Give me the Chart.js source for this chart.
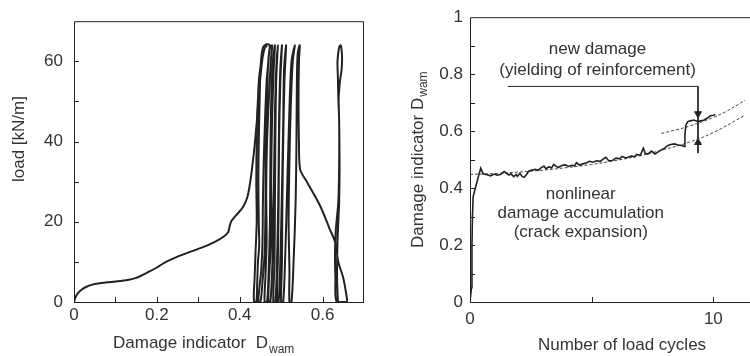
<!DOCTYPE html>
<html>
<head>
<meta charset="utf-8">
<script src="https://cdn.jsdelivr.net/npm/chart.js@4.4.1/dist/chart.umd.min.js"></script>
<style>
  body { margin: 0; background: #fff; }
  #wrap { position: relative; width: 750px; height: 356px; }
  #wrap canvas { position: absolute; top: 0; }
</style>
</head>
<body>
<div id="wrap">
  <canvas id="left" width="375" height="356" style="left:0"></canvas>
  <canvas id="right" width="375" height="356" style="left:375px"></canvas>
</div>
<script>
/* ── left: load vs damage indicator ── */
const initD    = [0, 0.005, 0.015, 0.03, 0.05, 0.08, 0.1, 0.13, 0.15, 0.18, 0.2, 0.22, 0.25, 0.28, 0.31, 0.34, 0.36, 0.372, 0.376, 0.38, 0.392, 0.408, 0.418, 0.424, 0.43, 0.436, 0.442, 0.448, 0.454, 0.46, 0.466];
const initLoad = [0, 1.5, 2.8, 3.8, 4.5, 4.9, 5.1, 5.5, 6.0, 7.5, 8.6, 9.9, 11.3, 12.5, 13.6, 15.0, 16.2, 17.4, 19.0, 20.2, 21.7, 23.7, 26.0, 29.0, 33.5, 39.0, 46.0, 54.0, 60.0, 63.2, 64.0];

const cycD = [
  0.455, 0.447, 0.443, 0.441, 0.440, 0.441, 0.438, 0.436, 0.434, 0.435,
  0.440, 0.442, 0.444, 0.447, 0.446, 0.445, 0.446, 0.448, 0.450, 0.455, 0.463, 0.472,
  0.470, 0.465, 0.461, 0.458, 0.456, 0.455, 0.452, 0.447, 0.445,
  0.450, 0.455, 0.460, 0.462, 0.463, 0.465, 0.468, 0.472, 0.478,
  0.475, 0.470, 0.466, 0.464, 0.465, 0.462, 0.460,
  0.466, 0.470, 0.473, 0.474, 0.476, 0.480, 0.485,
  0.482, 0.478, 0.476, 0.477, 0.472, 0.469,
  0.474, 0.479, 0.482, 0.484, 0.487, 0.492,
  0.488, 0.486, 0.485, 0.484, 0.481,
  0.486, 0.490, 0.493, 0.495, 0.498, 0.502,
  0.498, 0.495, 0.494, 0.492, 0.490,
  0.494, 0.498, 0.502, 0.505, 0.507, 0.512,
  0.508, 0.505, 0.503, 0.502, 0.500,
  0.505, 0.510, 0.515, 0.520, 0.525, 0.533,
  0.528, 0.523, 0.520, 0.518, 0.520, 0.520,
  0.525, 0.530, 0.535, 0.537, 0.538, 0.540, 0.545,
  0.543, 0.542, 0.543, 0.546, 0.562, 0.594, 0.618, 0.630, 0.638, 0.650, 0.657, 0.658,
  0.634, 0.631, 0.630, 0.632, 0.638, 0.640, 0.640, 0.638, 0.637, 0.636, 0.640, 0.644,
  0.647, 0.646, 0.642, 0.639, 0.640, 0.641, 0.640, 0.636, 0.635, 0.637
];
const cycLoad = [
  62, 56, 48, 40, 30, 20, 12, 6, 2, 0,
  0, 4, 10, 14, 20, 30, 40, 50, 58, 63, 64.2, 64,
  61, 55, 45, 35, 25, 15, 8, 3, 0,
  0, 5, 12, 22, 35, 48, 58, 63, 64,
  60, 50, 40, 28, 15, 6, 0,
  0, 8, 20, 35, 50, 60, 64,
  58, 45, 30, 18, 8, 0,
  0, 10, 25, 40, 55, 64,
  55, 40, 25, 10, 0,
  0, 10, 25, 45, 58, 64,
  55, 40, 25, 10, 0,
  0, 10, 28, 45, 58, 64,
  55, 40, 25, 10, 0,
  0, 12, 30, 48, 60, 64,
  60, 48, 35, 20, 8, 0,
  0, 10, 25, 40, 55, 62, 64,
  60, 50, 40, 33, 30, 24, 18, 15, 10, 6, 2, 0,
  0, 6, 12, 18, 25, 34, 45, 51, 56, 60, 63.5, 64,
  61, 58, 55, 51, 45, 35, 25, 15, 6, 0
];

/* ── right: damage indicator vs number of load cycles ── */
const cycleN = [0, 0.06, 0.08, 0.1, 0.13, 0.25, 0.44, 0.54, 0.7, 0.85, 1.0, 1.1, 1.25, 1.41, 1.5, 1.6, 1.68, 1.8, 1.9, 1.95, 2.05, 2.15, 2.22, 2.3, 2.42, 2.55, 2.69, 2.8, 2.9, 3.04, 3.12, 3.25, 3.35, 3.44, 3.55, 3.64, 3.78, 3.9, 4.05, 4.17, 4.3, 4.37, 4.5, 4.64, 4.8, 4.91, 5.04, 5.2, 5.35, 5.44, 5.58, 5.7, 5.85, 6.0, 6.15, 6.25, 6.4, 6.55, 6.65, 6.75, 6.85, 7.0, 7.12, 7.2, 7.3, 7.46, 7.6, 7.75, 7.86, 8.0, 8.13, 8.25, 8.4, 8.55, 8.67, 8.8, 8.83, 8.87, 8.95, 9.05, 9.2, 9.35, 9.47, 9.6, 9.74, 9.88, 10.0, 10.08];
const dwam   = [0, 0.05, 0.19, 0.3, 0.37, 0.41, 0.47, 0.45, 0.447, 0.443, 0.449, 0.445, 0.448, 0.458, 0.452, 0.446, 0.45, 0.44, 0.448, 0.441, 0.452, 0.44, 0.438, 0.445, 0.46, 0.463, 0.466, 0.462, 0.47, 0.477, 0.468, 0.475, 0.471, 0.483, 0.476, 0.473, 0.479, 0.482, 0.476, 0.48, 0.478, 0.489, 0.481, 0.485, 0.489, 0.494, 0.491, 0.496, 0.494, 0.5, 0.508, 0.496, 0.497, 0.505, 0.503, 0.511, 0.506, 0.51, 0.513, 0.509, 0.518, 0.515, 0.54, 0.522, 0.519, 0.53, 0.52, 0.528, 0.534, 0.54, 0.55, 0.553, 0.555, 0.551, 0.55, 0.546, 0.587, 0.621, 0.633, 0.636, 0.639, 0.634, 0.636, 0.638, 0.645, 0.654, 0.656, 0.658];

const trendLowN  = [0, 1, 2, 3, 4, 5, 6, 7, 8, 9, 10, 11.3];
const trendLowD  = [0.448, 0.451, 0.456, 0.463, 0.472, 0.483, 0.497, 0.514, 0.536, 0.561, 0.595, 0.656];
const trendHighN = [7.86, 8.5, 9, 9.5, 10, 10.5, 11.3];
const trendHighD = [0.592, 0.605, 0.617, 0.632, 0.648, 0.668, 0.708];

const leaderN = [1.55, 9.37, 9.37];
const leaderD = [0.757, 0.757, 0.523];
const arrowN  = [9.37, 9.37];
const arrowD  = [0.661, 0.56];
const arrowRot = [180, 0];

const noteText = ['new damage', '(yielding of reinforcement)', 'nonlinear', 'damage accumulation', '(crack expansion)'];
const noteN    = [5.24, 5.24, 4.55, 4.55, 4.55];
const noteD    = [0.887, 0.814, 0.379, 0.31, 0.243];

const INK = '#222';
const FONT = '"Liberation Sans", Arial, sans-serif';
Chart.defaults.font.family = FONT;
Chart.defaults.font.size = 17;
Chart.defaults.color = '#333';

const pts = (xs, ys) => xs.map((x, i) => ({ x, y: ys[i] }));

/* inward tick marks, frame and titles */
const frame = {
  id: 'frame',
  afterDraw(chart, args, opts) {
    const { ctx, chartArea: a } = chart;
    ctx.save();
    ctx.strokeStyle = INK;
    ctx.lineWidth = 1;
    ctx.beginPath();
    ctx.moveTo(a.left + .5, a.bottom + .5); ctx.lineTo(a.left + .5, a.top + .5);
    ctx.lineTo(opts.open ? chart.width : a.right - .5, a.top + .5);
    if (!opts.open) ctx.lineTo(a.right - .5, a.bottom + .5);
    ctx.moveTo(a.left, a.bottom + .5); ctx.lineTo(opts.open ? chart.width : a.right, a.bottom + .5);
    // ticks
    const xs = chart.scales.x, ys = chart.scales.y;
    xs.ticks.forEach(t => {
      if (t.value <= xs.min || t.value >= xs.max) return;
      const p = Math.round(xs.getPixelForValue(t.value)) + .5;
      ctx.moveTo(p, a.bottom); ctx.lineTo(p, a.bottom - 5);
    });
    ys.ticks.forEach(t => {
      if (t.value <= ys.min || t.value >= ys.max - 1e-9) return;
      const p = Math.round(ys.getPixelForValue(t.value)) + .5;
      ctx.moveTo(a.left, p); ctx.lineTo(a.left + 5, p);
    });
    ctx.stroke();

    ctx.fillStyle = '#333';
    ctx.textBaseline = 'alphabetic';
    // x title
    const xt = opts.xTitle;
    ctx.font = '17px ' + FONT;
    ctx.textAlign = xt.align;
    ctx.fillText(xt.text, xt.x, xt.y);
    if (xt.sub) {
      const w = ctx.measureText(xt.text).width;
      ctx.font = '12px ' + FONT;
      ctx.textAlign = 'left';
      ctx.fillText(xt.sub, xt.x + w + 1, xt.y + 5);
    }
    // y title
    const yt = opts.yTitle;
    ctx.translate(yt.x, yt.y);
    ctx.rotate(-Math.PI / 2);
    ctx.font = '17px ' + FONT;
    ctx.textAlign = 'left';
    ctx.fillText(yt.text, 0, 0);
    if (yt.sub) {
      const w = ctx.measureText(yt.text).width;
      ctx.font = '12px ' + FONT;
      ctx.fillText(yt.sub, w + 1, 4);
    }
    ctx.restore();
  }
};

const notes = {
  id: 'notes',
  afterDatasetsDraw(chart) {
    const { ctx, scales } = chart;
    ctx.save();
    ctx.fillStyle = '#333';
    ctx.font = '17px ' + FONT;
    ctx.textAlign = 'center';
    ctx.textBaseline = 'middle';
    noteText.forEach((t, i) => {
      ctx.fillText(t, scales.x.getPixelForValue(noteN[i]), scales.y.getPixelForValue(noteD[i]));
    });
    ctx.restore();
  }
};

function axisOpts(min, max, step, labels, pad, size, isX) {
  return {
    type: 'linear', min, max,
    ticks: {
      stepSize: step, padding: pad, color: '#333',
      autoSkip: false, maxRotation: 0, includeBounds: false,
      callback: v => {
        const hit = labels.find(l => Math.abs(l - v) < 1e-6);
        return hit === undefined ? '' : String(hit);
      }
    },
    grid: { drawOnChartArea: false, drawTicks: false },
    border: { display: false },
    afterFit: s => { if (isX) s.height = size; else s.width = size; }
  };
}

new Chart(document.getElementById('left'), {
  type: 'scatter',
  data: {
    datasets: [
      { data: pts(initD, initLoad), showLine: true, borderColor: INK, borderWidth: 2, pointRadius: 0, tension: 0.3 },
      { data: pts(cycD, cycLoad), showLine: true, borderColor: INK, borderWidth: 2, pointRadius: 0, tension: 0.3 }
    ]
  },
  options: {
    responsive: false, animation: false,
    layout: { padding: { top: 13, right: 11 } },
    plugins: {
      legend: { display: false }, tooltip: { enabled: false },
      frame: {
        open: false,
        xTitle: { text: 'Damage indicator  D', sub: 'wam', x: 113, y: 348, align: 'left' },
        yTitle: { text: 'load [kN/m]', x: 24, y: 182 }
      }
    },
    scales: {
      x: axisOpts(0, 0.7, 0.1, [0, 0.2, 0.4, 0.6], 3, 54, true),
      y: axisOpts(0, 70, 10, [0, 20, 40, 60], 11, 74, false)
    }
  },
  plugins: [frame]
});

new Chart(document.getElementById('right'), {
  type: 'scatter',
  data: {
    datasets: [
      { data: pts(cycleN, dwam), showLine: true, borderColor: INK, borderWidth: 1.6, pointRadius: 0, tension: 0 },
      { data: pts(trendLowN, trendLowD), showLine: true, borderColor: '#444', borderWidth: 1, borderDash: [3, 2], pointRadius: 0, tension: 0.4 },
      { data: pts(trendHighN, trendHighD), showLine: true, borderColor: '#444', borderWidth: 1, borderDash: [3, 2], pointRadius: 0, tension: 0.4 },
      { data: pts(leaderN, leaderD), showLine: true, borderColor: INK, borderWidth: 1, pointRadius: 0, tension: 0 },
      { data: pts(arrowN, arrowD), showLine: false, pointStyle: 'triangle', pointRadius: 4, rotation: arrowRot,
        backgroundColor: INK, borderColor: INK, borderWidth: 1 }
    ]
  },
  options: {
    responsive: false, animation: false,
    layout: { padding: { top: 14, right: 0 } },
    plugins: {
      legend: { display: false }, tooltip: { enabled: false },
      frame: {
        open: true,
        xTitle: { text: 'Number of load cycles', x: 247, y: 350, align: 'center' },
        yTitle: { text: 'Damage indicator D', sub: 'wam', x: 48, y: 248 }
      }
    },
    scales: {
      x: axisOpts(0, 11.3, 5, [0, 10], 7, 54, true),
      y: axisOpts(0, 1, 0.1, [0, 0.2, 0.4, 0.6, 0.8, 1], 7, 95, false)
    }
  },
  plugins: [frame, notes]
});
</script>
</body>
</html>
